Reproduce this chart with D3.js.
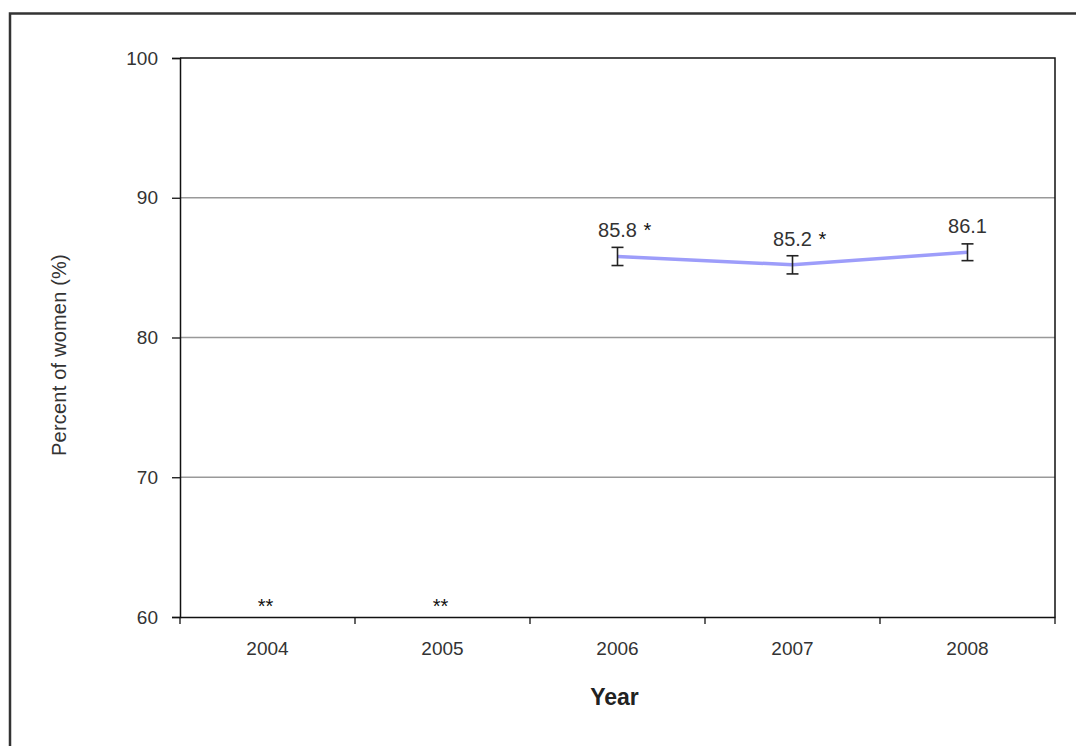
<!DOCTYPE html>
<html><head><meta charset="utf-8">
<script src="https://cdn.jsdelivr.net/npm/d3@7"></script>
<style>body{margin:0;background:#fff;} text{font-family:"Liberation Sans",Arial,sans-serif;}</style>
</head><body>
<svg id="c" width="1076" height="746"></svg>
<script>
const years = ["2004","2005","2006","2007","2008"];
const values = [null, null, 85.8, 85.2, 86.1];
const errors = [null, null, 0.65, 0.65, 0.6];
const sigFlags = ["", "", "*", "*", ""];
const missingMark = "**";
const yTicks = [60, 70, 80, 90, 100];
const gridValues = [70, 80, 90];

const svg = d3.select("#c");
const m = {left:180, right:1055, top:58, bottom:617};
const x = d3.scaleBand().domain(years).range([m.left, m.right]);
const y = d3.scaleLinear().domain([60,100]).range([m.bottom, m.top]);

// outer frame
svg.append("path").attr("d","M10,746 L10,13.5 L1076,13.5").attr("fill","none").attr("stroke","#333").attr("stroke-width",2.5);

// gridlines
svg.append("g").selectAll("line").data(gridValues).join("line")
  .attr("x1",m.left).attr("x2",m.right).attr("y1",d=>y(d)).attr("y2",d=>y(d))
  .attr("stroke","#999").attr("stroke-width",1.3);

// plot box top/right
svg.append("path").attr("d",`M${m.left},${m.top} L${m.right},${m.top} L${m.right},${m.bottom}`)
  .attr("fill","none").attr("stroke","#111").attr("stroke-width",1.5);

// y axis
const ya = svg.append("g").attr("transform",`translate(${m.left},0)`)
  .call(d3.axisLeft(y).tickValues(yTicks).tickSize(8).tickPadding(14));
ya.select(".domain").attr("stroke","#111").attr("stroke-width",1.5);
ya.selectAll(".tick line").attr("stroke","#111").attr("stroke-width",1.3);
ya.selectAll("text").attr("font-size",19).attr("fill","#333");

// x axis
const xa = svg.append("g").attr("transform",`translate(0,${m.bottom})`)
  .call(d3.axisBottom(x).tickSize(0));
xa.select(".domain").attr("stroke","#111").attr("stroke-width",1.5);
xa.selectAll("text").attr("font-size",19).attr("fill","#333").attr("y",38).attr("dy",0);
const bounds = years.map(d=>x(d)).concat([m.right]);
xa.selectAll(".bt").data(bounds).join("line").attr("class","bt")
  .attr("x1",d=>d).attr("x2",d=>d).attr("y1",0).attr("y2",7)
  .attr("stroke","#111").attr("stroke-width",1.3);

// axis titles
svg.append("text").attr("x",(m.left+m.right)/2 - 3).attr("y",705).attr("text-anchor","middle")
  .attr("font-size",23).attr("font-weight","bold").attr("fill","#222").text("Year");
svg.append("text").attr("transform","translate(66,355) rotate(-90)").attr("text-anchor","middle")
  .attr("font-size",20).attr("letter-spacing","0.2").attr("fill","#333").text("Percent of women (%)");

const cx = d => x(d) + x.bandwidth()/2;
const pts = years.map((d,i)=>({year:d, v:values[i], e:errors[i], sig:sigFlags[i]}));
const valid = pts.filter(p=>p.v!==null);

// line
svg.append("path").datum(valid)
  .attr("d", d3.line().x(p=>cx(p.year)).y(p=>y(p.v)))
  .attr("fill","none").attr("stroke","#9d9dfa").attr("stroke-width",3.5);

// error bars
const eb = svg.append("g").selectAll("g").data(valid).join("g");
eb.append("line").attr("x1",p=>cx(p.year)).attr("x2",p=>cx(p.year))
  .attr("y1",p=>y(p.v+p.e)).attr("y2",p=>y(p.v-p.e)).attr("stroke","#222").attr("stroke-width",1.6);
eb.append("line").attr("x1",p=>cx(p.year)-6).attr("x2",p=>cx(p.year)+6)
  .attr("y1",p=>y(p.v+p.e)).attr("y2",p=>y(p.v+p.e)).attr("stroke","#222").attr("stroke-width",1.6);
eb.append("line").attr("x1",p=>cx(p.year)-6).attr("x2",p=>cx(p.year)+6)
  .attr("y1",p=>y(p.v-p.e)).attr("y2",p=>y(p.v-p.e)).attr("stroke","#222").attr("stroke-width",1.6);

// value labels
const lab = svg.append("g").selectAll("g").data(valid).join("g");
lab.append("text").attr("x",p=>cx(p.year)).attr("y",p=>y(p.v)-19)
  .attr("text-anchor","middle").attr("font-size",20).attr("fill","#333").text(p=>p.v.toFixed(1));
lab.append("text").attr("x",p=>cx(p.year)+26).attr("y",p=>y(p.v)-19)
  .attr("text-anchor","start").attr("font-size",20).attr("fill","#111").text(p=>p.sig);

// ** markers for missing years
svg.append("g").selectAll("text").data(pts.filter(p=>p.v===null)).join("text")
  .attr("x",p=>cx(p.year)-2).attr("y",y(60)-4).attr("text-anchor","middle")
  .attr("font-size",20).attr("fill","#111").text(missingMark);
</script>
</body></html>
